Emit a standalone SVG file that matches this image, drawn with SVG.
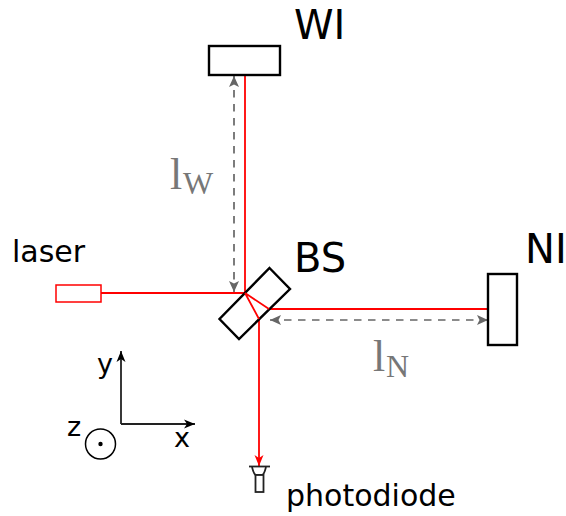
<svg xmlns="http://www.w3.org/2000/svg" width="566" height="516" viewBox="0 0 566 516">
<style>
.s{font-family:"DejaVu Sans",sans-serif;fill:#000}
.m{font-family:"Liberation Serif",serif;fill:#777}
.box{fill:#fff;stroke:#000;stroke-width:2.4}
.r{fill:none;stroke:#f00;stroke-width:1.8}
.d{fill:none;stroke:#666;stroke-width:1.7;stroke-dasharray:7.500 6.500}
.a{fill:none;stroke:#222;stroke-width:1.8}
</style>
<defs>
<marker id="g" markerUnits="userSpaceOnUse" markerWidth="12" markerHeight="10" refX="11" refY="5" orient="auto-start-reverse"><path d="M0 0L11 5L0 10L2.500 5Z" fill="#666"/></marker>
<marker id="k" markerUnits="userSpaceOnUse" markerWidth="12" markerHeight="10" refX="11" refY="5" orient="auto"><path d="M0 0.500L11 5L0 9.500L3 5Z" fill="#000"/></marker>
<marker id="rd" markerUnits="userSpaceOnUse" markerWidth="12" markerHeight="10" refX="11" refY="5" orient="auto"><path d="M0 0.500L11 5L0 9.500L3 5Z" fill="#f00"/></marker>
</defs>
<g id="connectors">
<path class="r" d="M245 75V293"/>
<path class="r" d="M101 293H245"/>
<path class="r" d="M269 309H488"/>
<path class="r" d="M259 319V466" marker-end="url(#rd)"/>
<path class="d" d="M234 76V292" marker-start="url(#g)" marker-end="url(#g)"/>
<path class="d" d="M270 320H488" marker-start="url(#g)" marker-end="url(#g)"/>
<path class="a" d="M121 424V351" marker-end="url(#k)"/>
<path class="a" d="M121 424H195" marker-end="url(#k)"/>
</g>
<g id="WI"><rect class="box" x="209" y="46" width="71" height="29"/><text class="s" x="294" y="39" font-size="40">WI</text></g>
<g id="NI"><rect class="box" x="488" y="274" width="29" height="71"/><text class="s" x="525" y="263" font-size="40">NI</text></g>
<g id="BS"><path class="box" d="M269.500 268L290 289L239 339L219.500 319Z"/><path class="r" d="M245 293L269 309M245 293L259 319"/><text class="s" x="294" y="272" font-size="40">BS</text></g>
<g id="laser"><rect x="56" y="285" width="45" height="17" fill="#fff" stroke="#f00" stroke-width="1.500"/><text class="s" x="12" y="262" font-size="30">laser</text></g>
<g id="photodiode"><path d="M249 466.500H270" fill="none" stroke="#222" stroke-width="1.800"/><path d="M252 467Q254 475 256 475H262Q264 475 266 467" fill="none" stroke="#222" stroke-width="1.800"/><rect x="255.500" y="475" width="8" height="17" fill="#fff" stroke="#222" stroke-width="1.800"/><text class="s" x="286" y="506" font-size="30">photodiode</text></g>
<g id="axes"><circle cx="100.500" cy="444" r="15" fill="#fff" stroke="#000" stroke-width="1.500"/><circle cx="100.500" cy="444" r="2.200" fill="#000"/><text class="s" x="97" y="373" font-size="27">y</text><text class="s" x="174" y="447" font-size="27">x</text><text class="s" x="67" y="436" font-size="27">z</text></g>
<g id="lW"><text class="m" x="170" y="189" font-size="44">l</text><text class="m" x="183" y="194" font-size="32">W</text></g>
<g id="lN"><text class="m" x="373" y="371" font-size="44">l</text><text class="m" x="386" y="377" font-size="32">N</text></g>
</svg>
